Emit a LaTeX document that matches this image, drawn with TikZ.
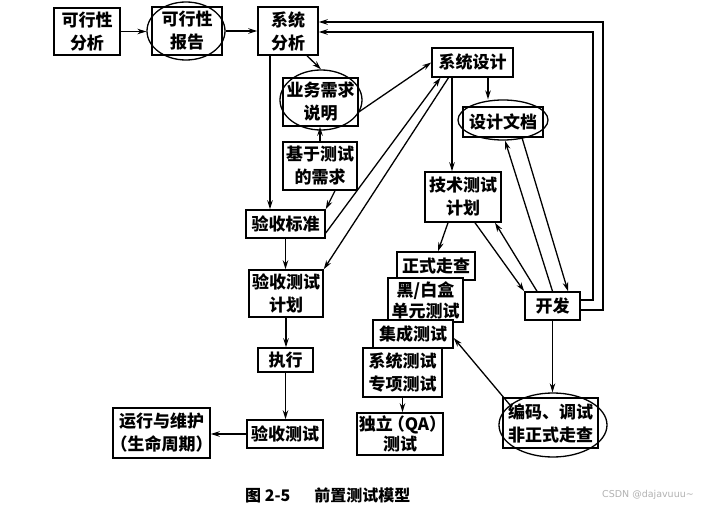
\documentclass[tikz,border=0pt]{standalone}
\usepackage{fontspec}
\setmainfont{Noto Sans CJK SC}
\newfontfamily\wmfont{DejaVu Sans}
\usetikzlibrary{shapes.geometric,arrows.meta}
\begin{document}
\begin{tikzpicture}[x=1pt,y=-1pt,
  box/.style={draw, line width=1.5pt, rectangle, inner sep=0pt, align=center,
    font=\bfseries\fontsize{17}{23}\selectfont, fill=white},
  oval/.style={draw, line width=1.3pt, ellipse, inner sep=0pt},
  arr/.style={line width=1.3pt, -{Stealth[length=9pt,width=5.5pt]}},
  ln/.style={line width=1.3pt}]
\fill[white] (0,0) rectangle (724,511);
\useasboundingbox (0,0) rectangle (724,511);

% nodes
\node[box, minimum width=66pt, minimum height=47pt] (kxfx) at (87,31.5) {可行性\\分析};
\node[box, minimum width=70pt, minimum height=48pt] (kxbg) at (187,31) {可行性\\报告};
\node[oval, minimum width=78pt, minimum height=58pt] (e_kxbg) at (186,31) {};
\node[box, minimum width=60pt, minimum height=48pt] (xtfx) at (288,31) {系统\\分析};
\node[box, minimum width=81pt, minimum height=29pt] (xtsj) at (472.5,62.5) {系统设计};
\node[box, minimum width=75pt, minimum height=48pt] (ywxq) at (320.5,102) {业务需求\\说明};
\node[oval, minimum width=82pt, minimum height=60pt] (e_ywxq) at (321,100) {};
\node[box, minimum width=74pt, minimum height=48pt] (jycs) at (320,166) {基于测试\\的需求};
\node[box, minimum width=79pt, minimum height=28pt] (ysbz) at (285.5,224) {验收标准};
\node[box, minimum width=74pt, minimum height=47pt] (yscsjh) at (286,293.5) {验收测试\\计划};
\node[box, minimum width=55pt, minimum height=24pt] (zx) at (285.5,360) {执行};
\node[box, minimum width=76pt, minimum height=28pt] (yscs) at (285,434) {验收测试};
\node[box, minimum width=97pt, minimum height=50pt] (yxwh) at (161.5,433)
  {运行与维护\\\makebox[10pt][r]{（}生命周期\makebox[10pt][l]{）}};
\node[box, minimum width=80pt, minimum height=30pt] (sjwd) at (503,122) {设计文档};
\node[oval, minimum width=90pt, minimum height=40pt] (e_sjwd) at (503,120) {};
\node[box, minimum width=76pt, minimum height=50pt] (jscsjh) at (463,197) {技术测试\\计划};
\node[box, minimum width=78pt, minimum height=28pt] (zszc) at (436,266) {正式走查};
\node[box, minimum width=75pt, minimum height=44pt, font=\bfseries\fontsize{17}{21}\selectfont] (hbh) at (425.5,300) {黑/白盒\\单元测试};
\node[box, minimum width=80pt, minimum height=28pt] (jccs) at (413,334) {集成测试};
\node[box, minimum width=79pt, minimum height=49pt] (xtcs) at (402.5,372.5) {系统测试\\专项测试};
\node[box, minimum width=86pt, minimum height=42pt, font=\bfseries\fontsize{17}{20}\selectfont] (dl) at (400,434)
  {独立\makebox[12pt][r]{（}QA\makebox[12pt][l]{）}\\测试};
\node[box, minimum width=95pt, minimum height=50pt] (bm) at (550.5,423) {编码、调试\\非正式走查};
\node[oval, minimum width=108pt, minimum height=64pt] (e_bm) at (553,425) {};
\node[box, minimum width=55pt, minimum height=28pt] (kf) at (552.5,306) {开发};

% caption and watermark
\node[font=\bfseries\fontsize{16}{16}\selectfont, anchor=west, inner sep=0pt] (cap) at (245,495)
  {图 2-5\hspace{24pt}前置测试模型};
\node[font=\wmfont\fontsize{9.5}{10}\selectfont, text=black!30, anchor=west, inner sep=0pt] (wm) at (602,495)
  {CSDN @dajavuuu\textasciitilde};

% connectors
\draw[arr] (kxfx.east) -- (kxfx.east -| e_kxbg.west);
\draw[arr] (e_kxbg.east) -- (e_kxbg.east -| xtfx.west);

\coordinate (c1a) at (593,300);
\coordinate (c1b) at (593,32);
\coordinate (c2a) at (603,310);
\coordinate (c2b) at (603,22);
\draw[arr] (kf.east |- c1a) -- (c1a) -- (c1b) -- (xtfx.east |- c1b);
\draw[arr] (kf.east |- c2a) -- (c2a) -- (c2b) -- (xtfx.east |- c2b);

\draw[arr] ([xshift=-18pt]xtfx.south) -- ([xshift=-18pt]xtfx.south |- ysbz.north);
\draw[arr] ([xshift=19pt]xtfx.south) -- (e_ywxq.north);
\draw[arr] ([yshift=-10pt]ywxq.east) -- (xtsj.west);
\draw[arr] (jycs.north) -- (jycs.north |- ywxq.south);
\draw[arr] ([xshift=15pt]jycs.south) -- (ysbz.north east);
\draw[arr] ([yshift=-9pt]ysbz.east) -- ([xshift=-32pt]xtsj.south);
\draw[arr] ([xshift=-24pt]xtsj.south) -- (yscsjh.north east);
\draw[arr] (ysbz.south) -- (ysbz.south |- yscsjh.north);
\draw[arr] (yscsjh.south) -- (yscsjh.south |- zx.north);
\draw[arr] (zx.south) -- (zx.south |- yscs.north);
\draw[arr] (yscs.west) -- (yscs.west -| yxwh.east);

\draw[arr] ([xshift=15.5pt]xtsj.south) -- ([xshift=15.5pt]xtsj.south |- e_sjwd.north);
\draw[arr] ([xshift=-20.5pt]xtsj.south) -- ([xshift=-20.5pt]xtsj.south |- jscsjh.north);
\draw[arr] (kf.north) -- ([xshift=2pt]e_sjwd.south);
\draw[arr] ([xshift=19pt]sjwd.south) -- ([xshift=15.5pt]kf.north);
\draw[arr] ([xshift=12pt]jscsjh.south) -- (kf.north west);
\draw[arr] ([xshift=-15.5pt]kf.north) -- ([xshift=32pt]jscsjh.south);
\draw[arr] ([xshift=-15pt]jscsjh.south) -- ([xshift=2pt]zszc.north);
\draw[arr] (kf.south) -- (kf.south |- e_bm.north);
\draw[arr] (e_bm.155) -- ([yshift=-4pt]jccs.east);
\draw[arr] (xtcs.south) -- (xtcs.south |- dl.north);
\end{tikzpicture}
\end{document}
